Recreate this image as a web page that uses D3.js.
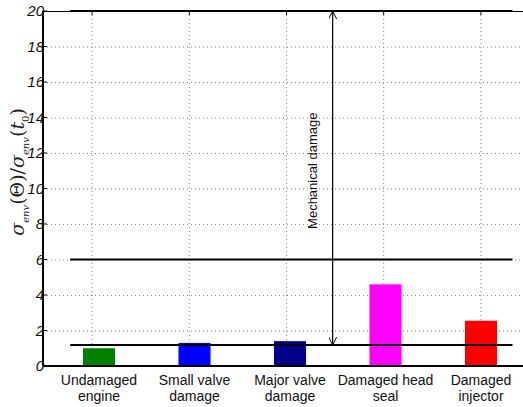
<!DOCTYPE html>
<html>
<head>
<meta charset="utf-8">
<script src="https://cdn.jsdelivr.net/npm/d3@7"></script>
<style>
  body { margin: 0; background: #fff; }
  svg { display: block; font-family: "Liberation Sans", Arial, sans-serif; }
  .grid line { stroke: #888; stroke-dasharray: 1,3; stroke-width: 1; }
  .cat { font-size: 14px; fill: #111; }
  .ytick { font-size: 15px; font-style: italic; fill: #111; }
</style>
</head>
<body>
<svg id="plate" width="523" height="407"></svg>
<script>
var categories = [['Undamaged', 'engine'], ['Small valve', 'damage'], ['Major valve', 'damage'], ['Damaged head', 'seal'], ['Damaged', 'injector']];
var values = [1.0, 1.3, 1.4, 4.6, 2.55];
var colors = ['#008000', '#0000ff', '#00008b', '#ff00ff', '#ff0000'];
var yTicks = [0, 2, 4, 6, 8, 10, 12, 14, 16, 18, 20];
var thresholds = [20, 6, 1.18];
var lineSpan = [0.78, 5.33];
var arrowAt = 3.48;
var arrowRange = [1.18, 20];
var annotation = 'Mechanical damage';

var svg = d3.select('#plate');
var margin = {top: 11, left: 43, bottom: 41};
var height = 407 - margin.top - margin.bottom;

// grid/axis scale, the box runs past the right edge of the picture
var x = d3.scaleLinear().domain([0.5, 5.5]).range([0, 486]);
// bars sit a little off the grid positions
var xb = d3.scaleLinear().domain([1, 5]).range([56, 438]);
var y = d3.scaleLinear().domain([0, 20]).range([height, 0]);

var g = svg.append('g').attr('transform', 'translate(' + margin.left + ',' + margin.top + ')');

// dotted grid
var grid = g.append('g').attr('class', 'grid');
grid.selectAll('.h').data(yTicks.slice(1, -1)).enter().append('line')
    .attr('x1', 0).attr('x2', x(5.5))
    .attr('y1', (d) => y(d) + 0.5).attr('y2', (d) => y(d) + 0.5);
grid.selectAll('.v').data([1, 2, 3, 4, 5]).enter().append('line')
    .attr('x1', (d) => x(d) + 0.5).attr('x2', (d) => x(d) + 0.5)
    .attr('y1', 0).attr('y2', height);

// small inward ticks
g.selectAll('.tt').data([1, 2, 3, 4, 5]).enter().append('line')
    .attr('x1', (d) => x(d) + 0.5).attr('x2', (d) => x(d) + 0.5)
    .attr('y1', 0).attr('y2', 4).attr('stroke', '#000');
g.selectAll('.tb').data([1, 2, 3, 4, 5]).enter().append('line')
    .attr('x1', (d) => x(d) + 0.5).attr('x2', (d) => x(d) + 0.5)
    .attr('y1', height).attr('y2', height - 4).attr('stroke', '#000');
g.selectAll('.tl').data(yTicks).enter().append('line')
    .attr('x1', 0).attr('x2', 4)
    .attr('y1', (d) => y(d)).attr('y2', (d) => y(d)).attr('stroke', '#000');

// bars
var bw = x(0.5 + 0.33) - x(0.5);
g.selectAll('.bar').data(values).enter().append('rect')
    .attr('x', (d, i) => xb(i + 1) - bw / 2)
    .attr('width', bw)
    .attr('y', (d) => y(d))
    .attr('height', (d) => height - y(d))
    .attr('fill', (d, i) => colors[i]);

// box lines
g.append('line').attr('x1', 0).attr('x2', 490).attr('y1', 0.5).attr('y2', 0.5).attr('stroke', '#000');
g.append('line').attr('x1', 0).attr('x2', 490).attr('y1', height).attr('y2', height).attr('stroke', '#000').attr('stroke-width', 2);
g.append('line').attr('x1', 0).attr('x2', 0).attr('y1', 0).attr('y2', height).attr('stroke', '#000').attr('stroke-width', 2);

// threshold lines
g.selectAll('.thr').data(thresholds).enter().append('line')
    .attr('x1', x(lineSpan[0])).attr('x2', x(lineSpan[1]))
    .attr('y1', (d) => y(d)).attr('y2', (d) => y(d))
    .attr('stroke', '#000').attr('stroke-width', 2);

// double arrow
var ax = x(arrowAt);
var defs = svg.append('defs');
defs.append('marker').attr('id', 'ah').attr('viewBox', '0 0 10 10')
    .attr('refX', 10).attr('refY', 5).attr('markerWidth', 8).attr('markerHeight', 8)
    .attr('orient', 'auto-start-reverse').attr('markerUnits', 'userSpaceOnUse')
    .append('path').attr('d', 'M0,0 L10,5 L0,10').attr('fill', 'none').attr('stroke', '#000').attr('stroke-width', 1.2);
g.append('line').attr('x1', ax).attr('x2', ax)
    .attr('y1', y(arrowRange[1])).attr('y2', y(arrowRange[0]))
    .attr('stroke', '#000').attr('stroke-width', 1.2)
    .attr('marker-start', 'url(#ah)').attr('marker-end', 'url(#ah)');
g.append('text')
    .attr('transform', 'translate(' + (ax - 16) + ',' + y(11) + ') rotate(-90)')
    .attr('text-anchor', 'middle').attr('font-size', 13).attr('fill', '#111')
    .text(annotation);

// y tick labels
g.selectAll('.ytick').data(yTicks).enter().append('text')
    .attr('class', 'ytick')
    .attr('x', 1).attr('y', (d) => y(d) + 5)
    .attr('text-anchor', 'end')
    .text((d) => d);

// category labels
var cats = g.selectAll('.cat').data(categories).enter().append('text')
    .attr('class', 'cat').attr('text-anchor', 'middle')
    .attr('transform', (d, i) => 'translate(' + xb(i + 1) + ',' + (height + 19) + ')');
cats.selectAll('tspan').data((d) => d).enter().append('tspan')
    .attr('x', 0).attr('dy', (d, j) => j ? 16 : 0).text((d) => d);

// y label
var yl = svg.append('text')
    .attr('transform', 'translate(24,172) rotate(-90)')
    .attr('text-anchor', 'middle').attr('font-size', 19).attr('fill', '#222')
    .attr('font-family', '"DejaVu Serif", serif');
yl.append('tspan').attr('font-style', 'italic').text('σ');
yl.append('tspan').attr('font-size', 10).attr('font-style', 'italic').attr('dy', 5).text('env');
yl.append('tspan').attr('dy', -5).text('(Θ)/');
yl.append('tspan').attr('font-style', 'italic').text('σ');
yl.append('tspan').attr('font-size', 10).attr('font-style', 'italic').attr('dy', 5).text('env');
yl.append('tspan').attr('dy', -5).text('(');
yl.append('tspan').attr('font-style', 'italic').text('t');
yl.append('tspan').attr('font-size', 10).attr('dy', 5).text('0');
yl.append('tspan').attr('dy', -5).text(')');
</script>
</body>
</html>
